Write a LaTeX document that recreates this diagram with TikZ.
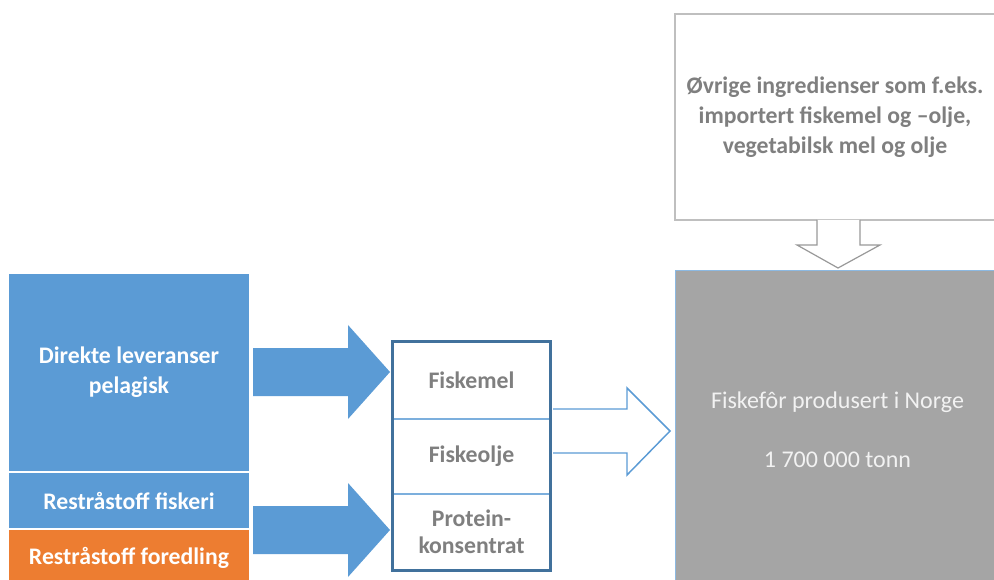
\documentclass[tikz,border=0pt]{standalone}
\usepackage{fontspec}
\setmainfont{Carlito}
\usepackage{tikz}

\definecolor{kblue}{HTML}{5B9BD5}
\definecolor{korange}{HTML}{ED7D31}
\definecolor{kgray}{HTML}{A5A5A5}
\definecolor{kdark}{HTML}{41719C}
\definecolor{ktext}{HTML}{7F7F7F}

\tikzset{
  kilde/.style={fill=kblue, text=white, font=\bfseries\fontsize{17.8}{22.5}\selectfont,
    align=center, inner sep=0pt, minimum width=180pt},
  produkt/.style={draw=kblue!80, line width=0.9pt, fill=white, text=ktext,
    font=\bfseries\fontsize{17.8}{20.5}\selectfont, align=center, inner sep=0pt,
    minimum width=117.75pt},
  blokkpil/.style={fill=kblue, draw=none},
  hulpil/.style={fill=white, draw=kblue, line width=1.1pt, line join=miter},
}

\begin{document}
\begin{tikzpicture}[x=0.75pt,y=-0.75pt]
			\useasboundingbox (0,0) rectangle (994,580);
			
			% raastoff
			\node [kilde, minimum height=147.75pt] (direkte) at (129,372.5) {Direkte leveranser\\pelagisk};
			\node [kilde, minimum height=41.25pt] (fiskeri) at (129,500.5) {Restråstoff fiskeri};
			\node [kilde, fill=korange, minimum height=42pt] (foredling) at (129,558) {Restråstoff foredling};
			
			% produkter
			\node [produkt, minimum height=57.75pt] (fiskemel) at (471.5,380.5) {Fiskemel};
			\node [produkt, minimum height=56.25pt] (fiskeolje) at (471.5,456.5) {Fiskeolje};
			\node [produkt, minimum height=57pt] (protein) at (471.5,532) {Protein-\\konsentrat};
			\draw [kdark, line width=2pt] (fiskemel.north west) rectangle (protein.south east);
			
			% ingredienser og for
			\node [draw=black!25, line width=0.9pt, fill=white, text=ktext, align=center,
			  font=\bfseries\fontsize{17.8}{22.5}\selectfont, inner sep=0pt,
			  minimum width=240pt, minimum height=154.5pt] (ovrige) at (835,117)
			  {Øvrige ingredienser som f.eks.\\importert fiskemel og –olje,\\vegetabilsk mel og olje};
			\node [draw=kblue!70, line width=0.6pt, fill=kgray, text=white!95!black, align=center,
			  font=\fontsize{18}{22}\selectfont, inner sep=0pt,
			  minimum width=243.75pt, minimum height=240pt] (fiskefor) at (837.5,430)
			  {Fiskefôr produsert i Norge\\[22pt]1 700 000 tonn};
			
			% piler
			\draw [blokkpil] (253,348) -- (348,348) -- (348,325) -- (390,372) -- (348,419) -- (348,396) -- (253,396) -- cycle;
			\draw [blokkpil] (253,506) -- (348,506) -- (348,483) -- (390,530) -- (348,577) -- (348,554) -- (253,554) -- cycle;
			\draw [hulpil] (553,409) -- (627,409) -- (627,388) -- (670,431) -- (627,475) -- (627,453) -- (553,453);
			\draw [hulpil, draw=black!40, line width=0.9pt] (817,220) -- (817,245) -- (797,245) -- (838,268) -- (880,245) -- (860,245) -- (860,220);
		\end{tikzpicture}
\end{document}
